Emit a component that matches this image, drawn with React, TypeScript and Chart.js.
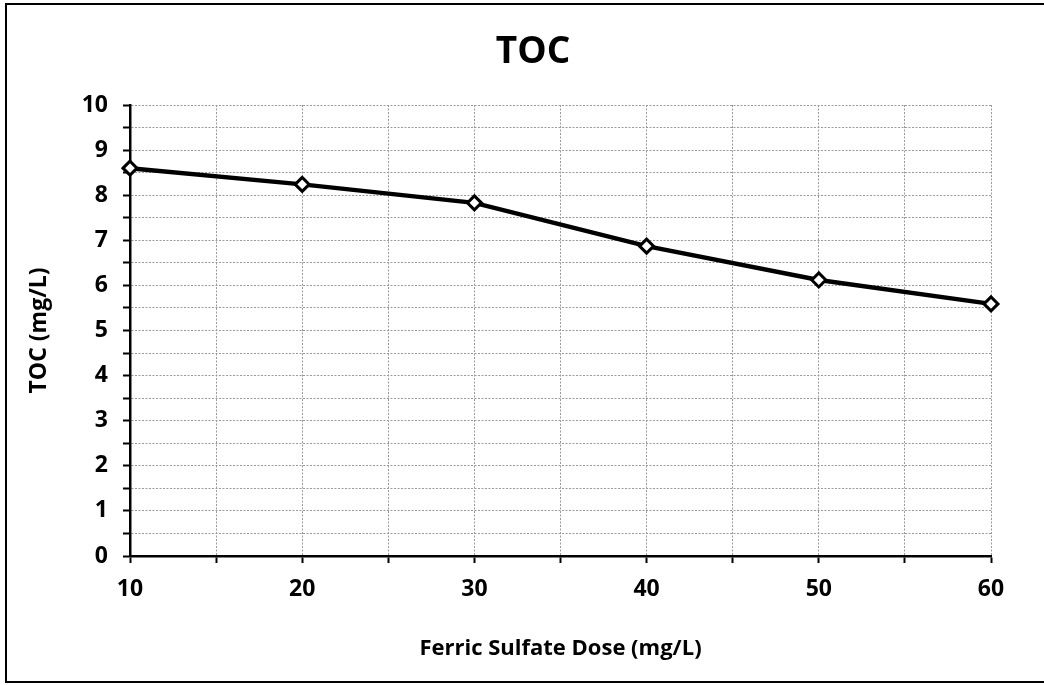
import React, { useEffect, useRef } from "react";
import { Chart, registerables } from "chart.js";

Chart.register(...registerables);

const doses = [10, 20, 30, 40, 50, 60];
const tocValues = [8.6, 8.24, 7.83, 6.87, 6.12, 5.59];
const chartTitle = "TOC";
const xTitle = "Ferric Sulfate Dose (mg/L)";
const yTitle = "TOC (mg/L)";

const FONT = "'Open Sans', 'DejaVu Sans', sans-serif";

const framePlugin = {
  id: "frame",
  afterDraw(chart: any) {
    const ctx = chart.ctx;
    ctx.save();
    ctx.strokeStyle = "#000";
    ctx.lineWidth = 2;
    ctx.strokeRect(6, 4, 1060, 678);
    ctx.fillStyle = "#000";
    ctx.font = `bold 37px ${FONT}`;
    ctx.textAlign = "center";
    ctx.textBaseline = "middle";
    ctx.fillText(chartTitle, 533, 52);
    ctx.restore();
  },
};

export default function App() {
  const ref = useRef<HTMLCanvasElement>(null);
  useEffect(() => {
    document.body.style.margin = "0";
    const gridCommon = {
      color: "#9a9a9a",
      lineWidth: 1,
      tickColor: "#000",
      tickLength: 7,
      tickWidth: 2,
      tickBorderDash: [],
    };
    const chart = new Chart(ref.current!, {
      type: "line",
      data: {
        datasets: [
          {
            data: doses.map((d, i) => ({ x: d, y: tocValues[i] })),
            borderColor: "#000",
            borderWidth: 4.5,
            pointStyle: "rectRot",
            pointRadius: 7,
            pointBorderWidth: 3,
            pointBackgroundColor: "#fff",
            pointBorderColor: "#000",
            clip: false,
            tension: 0,
          } as any,
        ],
      },
      options: {
        animation: false,
        responsive: false,
        layout: { padding: { left: 0, right: 53, top: 105, bottom: 0 } },
        plugins: {
          legend: { display: false },
          tooltip: { enabled: false },
          title: { display: false },
        },
        scales: {
          x: {
            type: "linear",
            min: 10,
            max: 60,
            afterFit(scale: any) {
              scale.height = 129;
            },
            ticks: {
              stepSize: 5,
              autoSkip: false,
              maxRotation: 0,
              color: "#000",
              padding: 13,
              font: { family: FONT, size: 23, weight: "bold" },
              callback: (v: any) => (Number(v) % 10 === 0 ? String(v) : ""),
            },
            grid: gridCommon,
            border: { display: true, color: "#000", width: 2.5, dash: [2, 1.5] as any },
            title: {
              display: true,
              text: xTitle,
              color: "#000",
              font: { family: FONT, size: 22, weight: "bold", lineHeight: 1.2 },
              padding: { top: 0, bottom: 23 },
            },
          },
          y: {
            type: "linear",
            min: 0,
            max: 10,
            afterFit(scale: any) {
              scale.width = 130;
            },
            ticks: {
              stepSize: 0.5,
              autoSkip: false,
              color: "#000",
              padding: 15,
              font: { family: FONT, size: 23, weight: "bold" },
              callback: (v: any) => (Number.isInteger(Number(v)) ? String(v) : ""),
            },
            grid: gridCommon,
            border: { display: true, color: "#000", width: 2.5, dash: [2, 1.5] as any },
            title: {
              display: true,
              text: yTitle,
              color: "#000",
              font: { family: FONT, size: 23, weight: "bold", lineHeight: 1.2 },
              padding: { top: 26, bottom: 0 },
            },
          },
        },
      } as any,
      plugins: [framePlugin],
    });
    return () => chart.destroy();
  }, []);
  return (
    <div style={{ position: "absolute", left: 0, top: 0, width: 1044, height: 685 }}>
      <canvas ref={ref} width={1044} height={685} style={{ width: 1044, height: 685 }} />
    </div>
  );
}
